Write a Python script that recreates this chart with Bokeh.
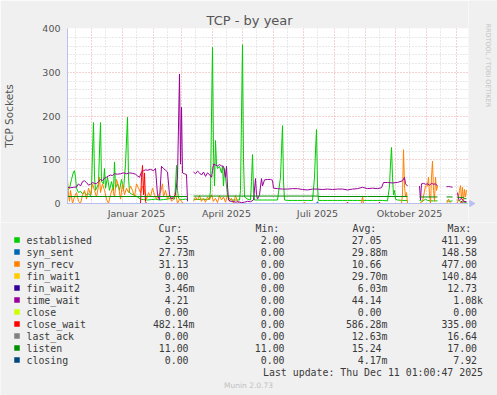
import math
from datetime import date
from bokeh.plotting import figure
from bokeh.models import Range1d, FixedTicker, Span
from bokeh.layouts import column, row
from bokeh.embed import file_html
from bokeh.resources import INLINE
from bokeh.core.properties import value

nan = float("nan")

# ---------------- data ----------------
START = date(2024, 11, 7)          # first day shown (day index 0)
X_DAYS = 401                        # days across the plot

month_starts = [date(2024, 12, 1), date(2025, 1, 1), date(2025, 2, 1), date(2025, 3, 1),
                date(2025, 4, 1), date(2025, 5, 1), date(2025, 6, 1), date(2025, 7, 1),
                date(2025, 8, 1), date(2025, 9, 1), date(2025, 10, 1), date(2025, 11, 1),
                date(2025, 12, 1)]
mid_months = [date(2024, 11, 15), date(2024, 12, 15), date(2025, 1, 15), date(2025, 2, 15),
              date(2025, 3, 15), date(2025, 4, 15), date(2025, 5, 15), date(2025, 6, 15),
              date(2025, 7, 15), date(2025, 8, 15), date(2025, 9, 15), date(2025, 10, 15),
              date(2025, 11, 15)]
label_dates = [date(2025, 1, 15), date(2025, 4, 15), date(2025, 7, 15), date(2025, 10, 15)]
label_texts = ["Januar 2025", "April 2025", "Juli 2025", "Oktober 2025"]
y_ticks = [0, 100, 200, 300, 400]
y_minor = [20, 40, 60, 80, 120, 140, 160, 180, 220, 240, 260, 280, 320, 340, 360, 380]

# established
est_day = [0, 2, 4, 6, 7, 8, 9, 11, 13, 15, 17, 19, 21, 23, 24, 25, 26, 27, 28, 30, 31, 32, 33, 34,
           36, 37, 38, 40, 42, 44, 46, 47, 48, 50, 52, 54, 56, 58, 60, 61, 62, 64, 66, 68, 70, 73,
           76, 80, 84, 88, 92, 96, 100, 104, 107, 108, 109, 110, 111, 112, 115, 118, 120, 121,
           126, 130, 135, 140, 142, 143, 144, 145, 146, 147, 148, 149, 150, 152, 154, 155, 156,
           157, 158, 160, 162, 165, 170, 172, 173, 174, 175, 176, 177, 180, 183, 184, 185, 186,
           187, 190, 195, 200, 205, 210, 213, 214, 215, 216, 217, 220, 225, 230, 235, 240, 245,
           247, 248, 249, 250, 251, 255, 260, 265, 270, 275, 280, 285, 290, 295, 300, 305, 310,
           315, 320, 322, 323, 324, 325, 326, 327, 328, 330, 335, 340, 341,
           352, 355, 358, 360, 363, 366, 370, 371, 379, 382, 385, 386, 390, 393, 396, 399]
est_val = [30, 35, 55, 72, 75, 60, 35, 25, 28, 22, 25, 20, 22, 18, 30, 120, 185, 60, 30, 40, 45, 120, 185, 50,
           45, 80, 35, 60, 30, 50, 30, 95, 35, 45, 30, 55, 30, 90, 197, 60, 25, 22, 20, 18, 15, 10,
           9, 8, 9, 10, 8, 9, 10, 12, 10, 40, 87, 30, 12, 10, 9, 10, 9, nan,
           10, 9, 10, 9, 10, 30, 200, 357, 120, 40, 144, 90, 80, 85, 70, 85, 40,
           80, 60, 20, 10, 8, 8, 8, 30, 200, 363, 100, 15, 10, 8, 50, 112, 30,
           8, 8, 8, 8, 8, 8, 60, 120, 178, 50, 8, 7, 7, 7, 7, 7, 7,
           60, 120, 169, 40, 7, 7, 7, 7, 7, 7, 7, 7, 7, 7, 7, 7, 7,
           7, 6, 40, 90, 128, 60, 20, 30, 10, 8, 7, 7, nan,
           7, 5, 10, 7, 6, 6, 6, nan, 6, 5, 6, nan, 8, 5, 3, 2.55]

# syn_sent
ss_day = [0, 120, 121, 126, 249, 250, 251, 340, 341, 352, 370, 371, 379, 385, 386, 390, 399]
ss_val = [0, 0, nan, 0, 0, 4, 0, 0, nan, 0, 0, nan, 0, 0, nan, 0, 0]

# syn_recv
sr_day = [0, 1, 2, 3, 5, 7, 9, 11, 13, 15, 17, 19, 21, 23, 25, 27, 29, 31, 32, 33, 35, 37, 39, 41,
          43, 45, 47, 49, 51, 53, 55, 57, 59, 61, 63, 65, 67, 69, 71, 73, 75, 77, 79, 81, 83, 85,
          87, 89, 91, 93, 95, 96, 98, 100, 102, 104, 106, 108, 110, 112, 114, 116, 120, 121,
          126, 128, 130, 132, 134, 136, 138, 140, 142, 144, 146, 148, 150, 152, 154, 156, 158,
          160, 162, 164, 166, 168, 170, 172, 236, 237, 238, 294, 295, 296, 334, 335, 336, 337,
          338, 339, 340, 341, 352, 355, 358, 360, 361, 362, 363, 364, 365, 366, 367, 368, 369,
          370, 371, 379, 381, 383, 385, 386, 390, 392, 393, 394, 395, 396, 397, 398, 399]
sr_val = [55, 20, 5, 30, 0, 15, 25, 5, 0, 20, 30, 10, 35, 20, 45, 30, 15, 40, 60, 25, 45, 30, 10, 0,
          20, 35, 15, 55, 40, 10, 45, 20, 35, 25, 40, 30, 15, 45, 35, 25, 40, 30, 10, 25, 15, 35,
          20, 10, 20, 25, 45, 15, 30, 10, 20, 5, 10, 25, 0, 10, 5, 0, 0, nan,
          5, 15, 8, 18, 5, 12, 3, 15, 8, 20, 5, 12, 2, 18, 8, 15, 3,
          20, 5, 12, 0, 18, 5, 0, 0, 3, 0, 0, 16, 0, 0, 20, 123, 40,
          15, 25, 0, nan, 0, 5, 40, 40, 60, 20, 0, 60, 97, 30, 5, 60, 30,
          40, nan, 0, 10, 0, 0, nan, 0, 30, 41, 10, 37, 5, 32, 15, 31]

# fin_wait1 / fin_wait2 / close / last_ack / closing (flat at zero)
zero_day = [0, 120, 121, 126, 340, 341, 352, 370, 371, 379, 385, 386, 390, 399]
fw1_val = [0, 0, nan, 0, 0, nan, 0, 0, nan, 0, 0, nan, 0, 0]
fw2_val = [0, 0, nan, 0, 0, nan, 0, 0, nan, 0, 0, nan, 0, 0]
close_val = [0, 0, nan, 0, 0, nan, 0, 0, nan, 0, 0, nan, 0, 0]
lack_val = [0, 0, nan, 0, 0, nan, 0, 0, nan, 0, 0, nan, 0, 0]
closing_val = [0, 0, nan, 0, 0, nan, 0, 0, nan, 0, 0, nan, 0, 0]

# time_wait
tw_day = [0, 3, 6, 9, 11, 13, 15, 17, 19, 21, 23, 25, 27, 29, 31, 33, 35, 37, 39, 41, 43, 45, 47,
          50, 53, 56, 59, 62, 65, 68, 70, 72, 74, 76, 78, 80, 83, 86, 88, 90, 92, 94, 96, 98, 100,
          102, 104, 106, 108, 110, 112, 113, 114, 115, 117, 119, 120, 121,
          126, 128, 130, 132, 134, 136, 138, 140, 142, 144, 145, 146, 148, 150, 152, 154, 156,
          158, 159, 160, 161, 163, 165, 168, 171, 174, 177, 180, 183, 186, 188, 189, 190, 192,
          194, 195, 197, 200, 203, 205, 206, 210, 215, 220, 225, 230, 235, 240, 245, 250, 255,
          260, 265, 270, 275, 280, 285, 290, 295, 300, 305, 310, 314, 316, 320, 325, 330, 335,
          337, 338, 340, 341, 352, 353, 354, 356, 358, 360, 362, 364, 366, 368, 370, 371,
          379, 381, 383, 385, 386, 390, 391, 392, 394, 396, 399]
tw_val = [37, 36, 37, 38, 45, 40, 50, 52, 48, 42, 44, 48, 46, 45, 50, 55, 52, 58, 60, 63, 65, 64, 68,
          67, 68, 70, 68, 70, 69, 67, 63, 60, 72, 75, 77, 76, 78, 75, 80, 20, 8, 85, 80, 76, 72,
          20, 10, 15, 20, 60, 296, 90, 220, 70, 68, 66, 5, nan,
          72, 68, 74, 70, 65, 72, 62, 70, 66, 60, 75, 90, 88, 86, 89, 86, 85,
          60, 85, 40, 8, 5, 5, 3, 4, 2, 3, 5, 4, 8, 57, 20, 10, 20,
          57, 40, 54, 55, 55, 53, 35, 34, 33, 33, 34, 34, 32, 31, 33, 33, 32,
          33, 32, 33, 33, 31, 33, 34, 37, 34, 35, 34, 36, 48, 48, 47, 48, 52,
          60, 45, 40, nan, 40, 8, 45, 46, 44, 45, 42, 46, 44, 45, 40, nan,
          38, 39, 38, 37, nan, 25, 10, 8, 12, 5, 4.21]

# close_wait
cw_day = [0, 73, 74, 75, 76, 77, 78, 79, 120, 121, 126, 279, 280, 281, 311, 312, 313, 340, 341,
          352, 370, 371, 379, 385, 386, 390, 393, 394, 395, 399]
cw_val = [0, 0, 60, 87, 20, 70, 5, 0, 0, nan, 0, 0, 3, 0, 0, 3, 0, 0, nan,
          0, 0, nan, 0, 0, nan, 0, 0, 5, 0, 0.48]

# listen
ls_day = [0, 40, 80, 120, 121, 126, 160, 200, 250, 251, 300, 340, 341, 352, 370, 371, 379, 385, 386,
          390, 396, 397, 399]
ls_val = [16, 16, 16, 16, nan, 17, 17, 17, 17, 16, 16, 16, nan, 15, 15, nan, 15, 15, nan,
          14, 14, 11, 11]

names = ["established", "syn_sent", "syn_recv", "fin_wait1", "fin_wait2", "time_wait", "close",
         "close_wait", "last_ack", "listen", "closing"]
colors = ["#00CC00", "#0066B3", "#FF8000", "#FFCC00", "#330099", "#990099", "#CCFF00",
          "#FF0000", "#808080", "#008F00", "#00487D"]
cur_txt = ["2.55", "27.73m", "31.13", "0.00", "3.46m", "4.21", "0.00", "482.14m", "0.00", "11.00", "0.00"]
min_txt = ["2.00", "0.00", "0.00", "0.00", "0.00", "0.00", "0.00", "0.00", "0.00", "11.00", "0.00"]
avg_txt = ["27.05", "29.88m", "10.66", "29.70m", "6.03m", "44.14", "0.00", "586.28m", "12.63m", "15.24", "4.17m"]
max_txt = ["411.99", "148.58", "477.00", "140.84", "12.73", "1.08k", "0.00", "335.00", "16.64", "17.00", "7.92"]

series = [(est_day, est_val), (ss_day, ss_val), (sr_day, sr_val), (zero_day, fw1_val),
          (zero_day, fw2_val), (tw_day, tw_val), (zero_day, close_val), (cw_day, cw_val),
          (zero_day, lack_val), (ls_day, ls_val), (zero_day, closing_val)]

TITLE = "TCP - by year"
WATERMARK = "RRDTOOL / TOBI OETIKER"

# ---------------- layout constants (pixels) ----------------
W = 497
FRAME_L, FRAME_R, FRAME_T, FRAME_B = 67, 468, 28, 203
CH = 222                      # height of the chart strip (title + plot + x labels)
BG = "#F0F0F0"
AXIS_COL = "#B8C0F2"


def dayidx(d):
    return (d - START).days


def strip(w, h, xr, yr):
    f = figure(width=w, height=h, output_backend="svg", toolbar_location=None,
               x_range=Range1d(*xr), y_range=Range1d(*yr), min_border=0,
               background_fill_color=BG, border_fill_color=BG, outline_line_color=None)
    f.frame_align = False
    f.axis.visible = False
    f.grid.visible = False
    return f


# ---------------- chart ----------------
p = figure(width=FRAME_R, height=CH, output_backend="svg", toolbar_location=None,
           x_range=Range1d(0, X_DAYS), y_range=Range1d(0, 400),
           min_border_left=FRAME_L, min_border_right=0, min_border_top=FRAME_T,
           min_border_bottom=CH - FRAME_B,
           background_fill_color="white", border_fill_color=BG, outline_line_color=None)
p.frame_align = False

p.title.text = TITLE
p.title.align = "left"
p.title.offset = 139
p.title.text_font = "DejaVu Sans"
p.title.text_font_size = "13px"
p.title.text_font_style = "normal"
p.title.text_color = "#555555"
p.title.standoff = 2

for ax in (p.xaxis[0], p.yaxis[0]):
    ax.axis_line_color = AXIS_COL
    ax.major_tick_line_color = None
    ax.minor_tick_line_color = None
    ax.major_tick_out = 0
    ax.major_label_text_font = "DejaVu Sans"
    ax.major_label_text_font_size = "9.5px"
    ax.major_label_text_color = "#555555"

lab_pos = [dayidx(d) for d in label_dates]
p.xaxis.ticker = FixedTicker(ticks=lab_pos)
p.xaxis.major_label_overrides = {k: tx for k, tx in zip(lab_pos, label_texts)}
p.xaxis.major_label_standoff = 4

p.yaxis.ticker = FixedTicker(ticks=y_ticks)
p.yaxis.major_label_standoff = 7
p.yaxis.axis_label = "TCP Sockets"
p.yaxis.axis_label_text_font = "DejaVu Sans"
p.yaxis.axis_label_text_font_size = "10.5px"
p.yaxis.axis_label_text_font_style = "normal"
p.yaxis.axis_label_text_color = "#555555"
p.yaxis.axis_label_standoff = 24

p.xgrid.ticker = FixedTicker(ticks=[dayidx(d) for d in month_starts],
                             minor_ticks=[dayidx(d) for d in mid_months])
p.ygrid.ticker = FixedTicker(ticks=y_ticks, minor_ticks=y_minor)
for g in (p.xgrid[0], p.ygrid[0]):
    g.grid_line_color = "#E8A4A4"
    g.grid_line_dash = "1 2"
    g.grid_line_width = 1
    g.minor_grid_line_color = "#D2D2D2"
    g.minor_grid_line_dash = "1 2"

for (dd, vv), c in zip(series, colors):
    p.line(dd, vv, line_color=c, line_width=1)

# axis lines drawn over the data (as rrdtool does)
p.add_layout(Span(location=0, dimension="width", line_color=AXIS_COL, line_width=1, level="overlay"))
p.add_layout(Span(location=0, dimension="height", line_color=AXIS_COL, line_width=1, level="overlay"))

# right strip: watermark + x-axis arrow (y = -canvas_y)
r = strip(W - FRAME_R, CH, (FRAME_R, W), (-CH, 0))
r.text(x=[487.5], y=[-23], text=[WATERMARK], angle=-math.pi / 2, text_font=value("DejaVu Sans"),
       text_font_size=value("6.5px"), text_color="#C4C4C4", text_align="left", text_baseline="middle")
r.scatter(x=[471], y=[-FRAME_B], marker="triangle", angle=-math.pi / 2, size=6,
          fill_color=AXIS_COL, line_color=AXIS_COL)

# ---------------- legend block (canvas coords, flipped y) ----------------
q = strip(W, 395 - CH, (0, W), (395, CH))

MONO = value("DejaVu Sans Mono")
FS = value("9.9px")
CW = 5.95
TXT = "#3A3A3A"
row0 = 239.5
rows = [row0 + 12 * i for i in range(len(names))]

q.text(x=[158, 255, 352, 447], y=[227.5] * 4, text=["Cur:", "Min:", "Avg:", "Max:"],
       text_font=MONO, text_font_size=FS, text_color=TXT, text_baseline="middle", text_align="left")
q.rect(x=[16.5] * len(names), y=rows, width=5.5, height=5.5, fill_color=colors, line_color=None)
q.text(x=[26] * len(names), y=rows, text=names, text_font=MONO, text_font_size=FS,
       text_color=TXT, text_baseline="middle", text_align="left")


def col_x(strings, end):
    return [end - (0 if s[-1].isalpha() else CW) for s in strings]


for strings, end in ((cur_txt, 194), (min_txt, 290), (avg_txt, 387), (max_txt, 482.5)):
    q.text(x=col_x(strings, end), y=rows, text=strings, text_font=MONO, text_font_size=FS,
           text_color=TXT, text_baseline="middle", text_align="right")

q.text(x=[482.5], y=[371.5], text=["Last update: Thu Dec 11 01:00:47 2025"], text_font=MONO,
       text_font_size=FS, text_color=TXT, text_baseline="middle", text_align="right")
q.text(x=[248], y=[384.5], text=["Munin 2.0.73"], text_font=value("DejaVu Sans"),
       text_font_size=value("7.5px"), text_color="#C0C0C0", text_baseline="middle", text_align="center")

layout = column(row(p, r, spacing=0), q, spacing=0)
open("out.html", "w").write(file_html(layout, INLINE))
